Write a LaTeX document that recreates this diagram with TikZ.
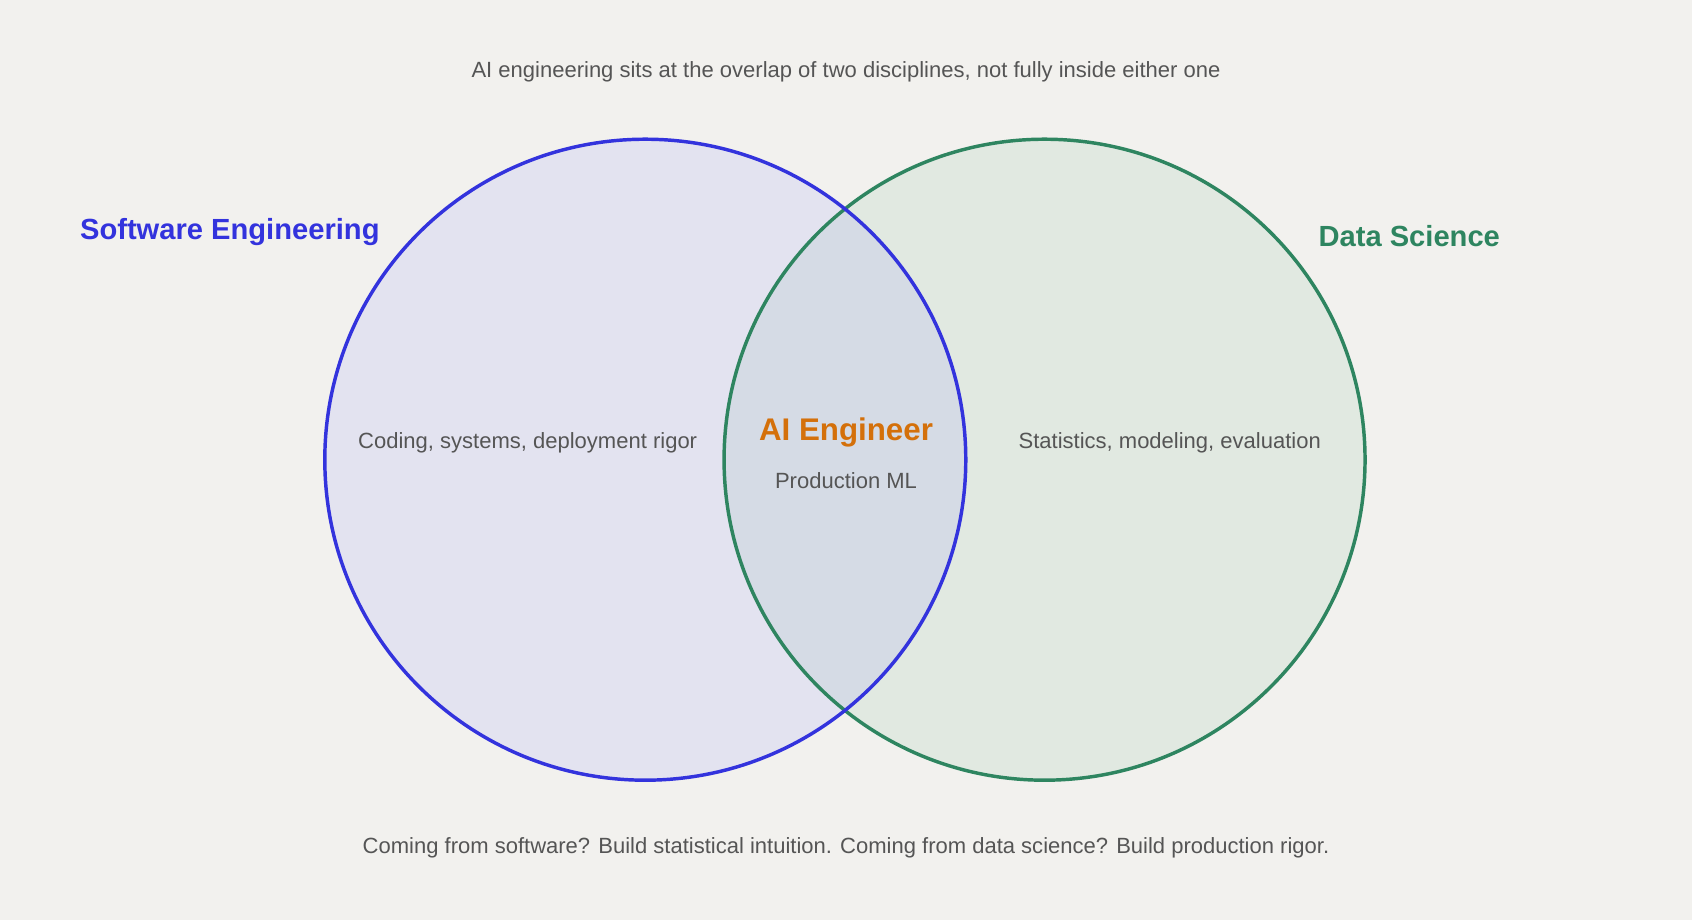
\documentclass[tikz,border=0pt]{standalone}
\usepackage{fontspec}
\setmainfont{Liberation Sans}
\definecolor{bg}{HTML}{F2F1EE}
\definecolor{sefill}{HTML}{E3E3F0}
\definecolor{dsfill}{HTML}{E1E9E1}
\definecolor{ovfill}{HTML}{D5DBE5}
\definecolor{sec}{HTML}{3333DD}
\definecolor{dsc}{HTML}{2E8560}
\definecolor{aic}{HTML}{D4700A}
\definecolor{txt}{HTML}{555555}
\begin{document}
\begin{tikzpicture}[x=0.5pt,y=-0.5pt,
  body/.style={text=txt,font=\fontsize{10.2}{12}\selectfont,inner sep=0pt},
  head/.style={font=\bfseries\fontsize{13.5}{16}\selectfont,inner sep=0pt}]
\fill[bg] (0,0) rectangle (1568,853);
\useasboundingbox (0,0) rectangle (1568,853);
\coordinate (cl) at (598,426);
\coordinate (cr) at (968,426);
\fill[sefill] (cl) circle[radius=297];
\fill[dsfill] (cr) circle[radius=297];
\begin{scope}
\clip (cl) circle[radius=297];
\fill[ovfill] (cr) circle[radius=297];
\end{scope}
\draw[dsc,line width=1.6pt] (cr) circle[radius=297];
\draw[sec,line width=1.6pt] (cl) circle[radius=297];
\node[body] (title) at (784,67) {AI engineering sits at the overlap of two disciplines, not fully inside either one};
\node[head,text=sec] (se) at (213,215) {Software Engineering};
\node[head,text=dsc] (ds) at (1306,219) {Data Science};
\node[body] (sel) at (489,410) {Coding, systems, deployment rigor};
\node[body] (dsl) at (1084,410) {Statistics, modeling, evaluation};
\node[head,text=aic,font=\bfseries\fontsize{14.5}{17}\selectfont] (ai) at (784,401) {AI Engineer};
\node[body] (pm) at (784,445) {Production ML};
\node[body] (foot) at (784,786) {Coming from software? Build statistical intuition. Coming from data science? Build production rigor.};
\end{tikzpicture}
\end{document}
